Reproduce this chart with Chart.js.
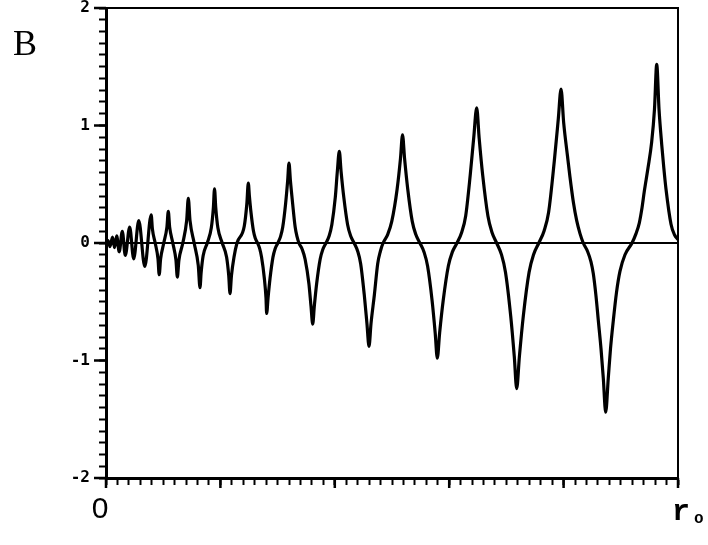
<!DOCTYPE html>
<html>
<head>
<meta charset="utf-8">
<script src="https://cdn.jsdelivr.net/npm/chart.js@4.4.1/dist/chart.umd.min.js"></script>
<style>
  html, body { margin: 0; padding: 0; background: #fff; }
  canvas { display: block; }
</style>
</head>
<body>
<canvas id="chart" width="708" height="545"></canvas>
<script>
// r / r0
const r = [
  0, 0.0035, 0.007, 0.0114, 0.0149, 0.0187, 0.0231, 0.0285, 0.0337, 0.0414, 0.0484, 0.0573, 0.0678,
  0.079, 0.0811, 0.086, 0.0909,
  0.093, 0.0955, 0.101, 0.1065,
  0.1089, 0.1113, 0.1168, 0.1223,
  0.1247, 0.1275, 0.1343, 0.141,
  0.1439, 0.1469, 0.1541, 0.1613,
  0.1643, 0.1664, 0.1699, 0.177, 0.1841, 0.1877,
  0.1897, 0.1919, 0.1956, 0.2032, 0.2108, 0.2146,
  0.2168, 0.2193, 0.2238, 0.229, 0.2417, 0.2462,
  0.2488, 0.2507, 0.2536, 0.2578, 0.261, 0.2649, 0.2687, 0.2719, 0.2768, 0.2797,
  0.2809, 0.2833, 0.2868, 0.2919, 0.2957, 0.3004, 0.3051, 0.309, 0.3141, 0.3176,
  0.3199, 0.3224, 0.3262, 0.3307, 0.334, 0.3373, 0.3431, 0.3481, 0.3547, 0.3584,
  0.3614, 0.3642, 0.3683, 0.3744, 0.379, 0.3846, 0.3902, 0.3948, 0.4009, 0.4044,
  0.4079, 0.411, 0.4157, 0.4224, 0.4276, 0.4338, 0.44, 0.4452, 0.4515, 0.4562,
  0.4598, 0.4633, 0.4692, 0.475, 0.4797, 0.4844, 0.4926, 0.4996, 0.509, 0.5148,
  0.5184, 0.522, 0.5275, 0.5354, 0.5415, 0.5488, 0.5561, 0.5622, 0.5701, 0.5755,
  0.5792, 0.5833, 0.5895, 0.5985, 0.6054, 0.6136, 0.6219, 0.6288, 0.6367, 0.6429,
  0.6481, 0.6523, 0.6586, 0.6677, 0.6747, 0.683, 0.6914, 0.6984, 0.7075, 0.7138,
  0.718, 0.7227, 0.7296, 0.7397, 0.7474, 0.7567, 0.766, 0.7738, 0.7838, 0.7908,
  0.7955, 0.8002, 0.8068, 0.8112, 0.8173, 0.8229, 0.8287, 0.8344, 0.8418, 0.8479, 0.8519, 0.8566, 0.8607, 0.8654, 0.8694,
  0.8736, 0.8781, 0.882, 0.8869, 0.8925, 0.8986, 0.9073, 0.9196, 0.9266, 0.9323, 0.9371, 0.9411, 0.9476, 0.954, 0.9589,
  0.9628, 0.9668, 0.9715, 0.9752, 0.979, 0.9878, 0.9939, 1
];

// B at each r
const b = [
  0, 0.02, -0.03, 0.05, -0.04, 0.06, -0.075, 0.1, -0.105, 0.135, -0.135, 0.19, -0.2,
  0.24, 0.12, 0, -0.135,
  -0.27, -0.135, 0, 0.135,
  0.27, 0.135, 0, -0.145,
  -0.29, -0.145, 0, 0.19,
  0.38, 0.19, 0, -0.19,
  -0.38, -0.247, -0.106, 0, 0.129, 0.299,
  0.46, 0.299, 0.129, 0, -0.12, -0.28,
  -0.43, -0.28, -0.12, 0, 0.143, 0.332,
  0.51, 0.398, 0.255, 0.102, 0.041, 0, -0.048, -0.12, -0.3, -0.468,
  -0.6, -0.468, -0.3, -0.12, -0.048, 0, 0.054, 0.136, 0.34, 0.53,
  0.68, 0.53, 0.34, 0.136, 0.054, 0, -0.055, -0.138, -0.345, -0.538,
  -0.69, -0.538, -0.345, -0.138, -0.055, 0, 0.062, 0.156, 0.39, 0.608,
  0.78, 0.608, 0.39, 0.156, 0.062, 0, -0.07, -0.176, -0.44, -0.686,
  -0.88, -0.686, -0.44, -0.176, -0.07, 0, 0.074, 0.184, 0.46, 0.718,
  0.92, 0.718, 0.46, 0.184, 0.074, 0, -0.078, -0.196, -0.49, -0.764,
  -0.98, -0.764, -0.49, -0.196, -0.078, 0, 0.092, 0.23, 0.575, 0.897,
  1.15, 0.897, 0.575, 0.23, 0.092, 0, -0.099, -0.248, -0.62, -0.967,
  -1.24, -0.967, -0.62, -0.248, -0.099, 0, 0.105, 0.262, 0.7, 1.06,
  1.31, 1.02, 0.74, 0.56, 0.34, 0.19, 0.08, 0, -0.07, -0.16, -0.26, -0.45, -0.66, -0.9, -1.15,
  -1.44, -1.15, -0.9, -0.66, -0.42, -0.24, -0.1, 0, 0.08, 0.17, 0.3, 0.44, 0.64, 0.86, 1.14,
  1.52, 1.14, 0.84, 0.64, 0.46, 0.16, 0.07, 0.03
];

// zero reference line
const zeroR = [0, 1];
const zeroB = [0, 0];

// ticks
const yLabels = [-2, -1, 0, 1, 2];
const xMajor = [0, 0.2, 0.4, 0.6, 0.8, 1];
const xLabels = ["0", "r"];
const panelLabel = "B";

const frame = {
  id: "frame",
  afterDraw(chart) {
    const { ctx, chartArea: a, scales: { x, y } } = chart;
    ctx.save();
    ctx.strokeStyle = "#000";
    ctx.fillStyle = "#000";

    // top and right sides of the box
    ctx.lineWidth = 2;
    ctx.beginPath();
    ctx.moveTo(a.left, a.top);
    ctx.lineTo(a.right, a.top);
    ctx.lineTo(a.right, a.bottom + 10);
    ctx.stroke();

    // longer ticks at the labelled values
    ctx.lineWidth = 2.5;
    ctx.beginPath();
    yLabels.forEach((v) => {
      const py = y.getPixelForValue(v);
      ctx.moveTo(a.left - 12, py);
      ctx.lineTo(a.left, py);
    });
    xMajor.forEach((v) => {
      const px = x.getPixelForValue(v);
      ctx.moveTo(px, a.bottom);
      ctx.lineTo(px, a.bottom + 10);
    });
    ctx.stroke();

    // panel letter
    ctx.font = '36px "Liberation Serif"';
    ctx.textAlign = "left";
    ctx.textBaseline = "alphabetic";
    ctx.fillText(panelLabel, 13, 55);

    // x labels: 0 and r0
    ctx.font = '30px "Liberation Sans"';
    ctx.textAlign = "center";
    ctx.fillText(xLabels[0], x.getPixelForValue(0) - 6, 518);
    ctx.font = 'bold 30px "Liberation Mono"';
    ctx.textAlign = "left";
    ctx.fillText(xLabels[1], x.getPixelForValue(1) - 6, 520);
    ctx.font = 'bold 16px "Liberation Mono"';
    ctx.fillText("o", x.getPixelForValue(1) + 16, 523);

    ctx.restore();
  },
};

new Chart(document.getElementById("chart"), {
  type: "line",
  data: {
    datasets: [
      {
        data: r.map((v, i) => ({ x: v, y: b[i] })),
        borderColor: "#000",
        borderWidth: 3.2,
        pointRadius: 0,
        cubicInterpolationMode: "monotone",
        fill: false,
      },
      {
        data: zeroR.map((v, i) => ({ x: v, y: zeroB[i] })),
        borderColor: "#000",
        borderWidth: 2,
        pointRadius: 0,
        fill: false,
      },
    ],
  },
  options: {
    responsive: false,
    animation: false,
    events: [],
    layout: { padding: { top: 8, right: 30, left: 0, bottom: 0 } },
    plugins: { legend: { display: false }, tooltip: { enabled: false } },
    scales: {
      x: {
        type: "linear",
        min: 0,
        max: 1,
        border: { display: true, color: "#000", width: 3 },
        grid: { drawOnChartArea: false, tickLength: 7, tickWidth: 2, tickColor: "#000" },
        ticks: { stepSize: 0.02, maxTicksLimit: 100, autoSkip: false, maxRotation: 0, callback: () => "" },
        afterFit: (s) => {
          s.height = 67;
          s.paddingLeft = 0;
          s.paddingRight = 0;
        },
      },
      y: {
        min: -2,
        max: 2,
        border: { display: true, color: "#000", width: 3 },
        grid: { drawOnChartArea: false, tickLength: 7, tickWidth: 2, tickColor: "#000" },
        ticks: {
          stepSize: 0.1,
          maxTicksLimit: 100,
          autoSkip: false,
          padding: 9,
          color: "#000",
          font: { family: '"DejaVu Sans Mono"', size: 16, weight: "bold" },
          callback: (v) => {
            const k = Math.round(v);
            return Math.abs(v - k) < 1e-6 && yLabels.includes(k) ? String(k) : "";
          },
        },
        afterFit: (s) => {
          s.width = 106;
          s.paddingTop = 0;
          s.paddingBottom = 0;
        },
      },
    },
  },
  plugins: [frame],
});
</script>
</body>
</html>
